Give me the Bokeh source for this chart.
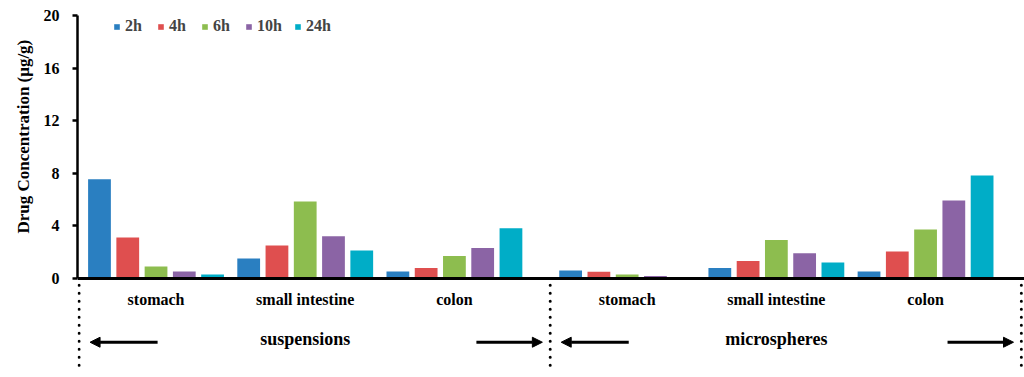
from bokeh.plotting import figure
from bokeh.models import (Range1d, Span, Arrow, NormalHead, FixedTicker, Legend,
                          LegendItem, ColumnDataSource, Title)
from bokeh.core.properties import value
from bokeh.embed import file_html
from bokeh.resources import INLINE

# ---- data ----
sections = ["suspensions", "microspheres"]
organs = ["stomach", "small intestine", "colon"]
times = ["2h", "4h", "6h", "10h", "24h"]
colors = ["#2a7fc1", "#df4f4f", "#8dbd4f", "#8b64a5", "#00adc7"]

susp_2h = [7.55, 1.52, 0.53]
susp_4h = [3.12, 2.51, 0.81]
susp_6h = [0.91, 5.86, 1.72]
susp_10h = [0.53, 3.22, 2.33]
susp_24h = [0.30, 2.13, 3.83]

micro_2h = [0.61, 0.81, 0.53]
micro_4h = [0.51, 1.34, 2.05]
micro_6h = [0.30, 2.94, 3.73]
micro_10h = [0.20, 1.93, 5.93]
micro_24h = [0.00, 1.22, 7.83]

susp = [susp_2h, susp_4h, susp_6h, susp_10h, susp_24h]
micro = [micro_2h, micro_4h, micro_6h, micro_10h, micro_24h]
y_ticks = [0, 4, 8, 12, 16, 20]
y_label = "Drug Concentration  (\u03bcg/g)"

# ---- layout helpers ----
SEC_W = len(organs)          # each section spans 3 units
G0, GP = 0.49, 0.95          # first group centre, group pitch (in units)
BP, BW = 0.18, 0.145         # bar pitch, bar width


def centre(s, i):
    return s * SEC_W + G0 + GP * i


FAMILY = "'Liberation Serif', 'Times New Roman', 'DejaVu Serif', serif"
FONT = value(FAMILY)

p = figure(width=1024, height=372, output_backend="svg", toolbar_location=None,
           x_range=Range1d(-0.01, 6.02), y_range=Range1d(-6.99, 20.23),
           x_axis_location=None, min_border_left=77, min_border_right=0,
           min_border_top=12, min_border_bottom=2)
p.xgrid.visible = False
p.ygrid.visible = False
p.outline_line_color = None
p.background_fill_color = "white"
p.border_fill_color = "white"

# bars
items = []
for k, t in enumerate(times):
    xs, tops = [], []
    for s, series in enumerate([susp, micro]):
        for i in range(len(organs)):
            xs.append(centre(s, i) + (k - 2) * BP)
            tops.append(series[k][i])
    src = ColumnDataSource(dict(x=xs, top=tops))
    r = p.vbar(x="x", top="top", bottom=0, width=BW, source=src,
               fill_color=colors[k], line_color=None)
    items.append(LegendItem(label=t, renderers=[r]))

# zero line
p.add_layout(Span(location=0, dimension="width", line_color="black", line_width=3))

# y axis
ax = p.yaxis[0]
ax.bounds = (0, 20)
ax.ticker = FixedTicker(ticks=y_ticks)
ax.minor_tick_line_color = None
ax.axis_line_width = 2.5
ax.major_tick_line_width = 2.5
ax.major_tick_in = 0
ax.major_tick_out = 5
ax.major_label_standoff = 13
ax.major_label_text_font = FAMILY
ax.major_label_text_font_style = "bold"
ax.major_label_text_font_size = "16px"
ax.major_label_text_color = "black"

# y axis title, beside the axis and shifted up to the original's position
p.add_layout(Title(text=y_label, align="left", offset=137, text_font=FAMILY,
                   text_font_style="bold", text_font_size="17px", text_color="black",
                   standoff=16), "left")

# organ labels
ox, oy, ot = [], [], []
for s in range(len(sections)):
    for i, o in enumerate(organs):
        ox.append(centre(s, i))
        oy.append(-1.6)
        ot.append(o)
p.text(x=ox, y=oy, text=ot, text_align="center", text_baseline="middle",
       text_font=FONT, text_font_style="bold", text_font_size="16px", text_color="black")

# section labels
sx = [centre(s, 1) for s in range(len(sections))]
p.text(x=sx, y=[-4.56] * len(sections), text=sections, text_align="center",
       text_baseline="middle", text_font=FONT, text_font_style="bold",
       text_font_size="18px", text_color="black")

# dotted section boundaries
bx = [s * SEC_W for s in range(len(sections) + 1)]
p.segment(x0=bx, y0=[-0.5] * len(bx), x1=bx, y1=[-6.85] * len(bx),
          line_color="black", line_width=3, line_dash="0 8", line_cap="round")

# arrows
for s in range(len(sections)):
    base = s * SEC_W
    p.add_layout(Arrow(end=NormalHead(size=10, fill_color="black", line_color="black"),
                       x_start=base + 0.50, y_start=-4.84, x_end=base + 0.07, y_end=-4.84,
                       line_width=3, line_color="black"))
    p.add_layout(Arrow(end=NormalHead(size=10, fill_color="black", line_color="black"),
                       x_start=base + 2.53, y_start=-4.84, x_end=base + 2.95, y_end=-4.84,
                       line_width=3, line_color="black"))

legend = Legend(items=items, orientation="horizontal", location=(36, 335),
                padding=0, margin=0, spacing=12, label_standoff=5,
                glyph_width=7, glyph_height=7, border_line_color=None,
                background_fill_alpha=0, label_text_font=FAMILY,
                label_text_font_style="bold", label_text_font_size="16px")
p.add_layout(legend)

open("out.html", "w").write(file_html(p, INLINE))
